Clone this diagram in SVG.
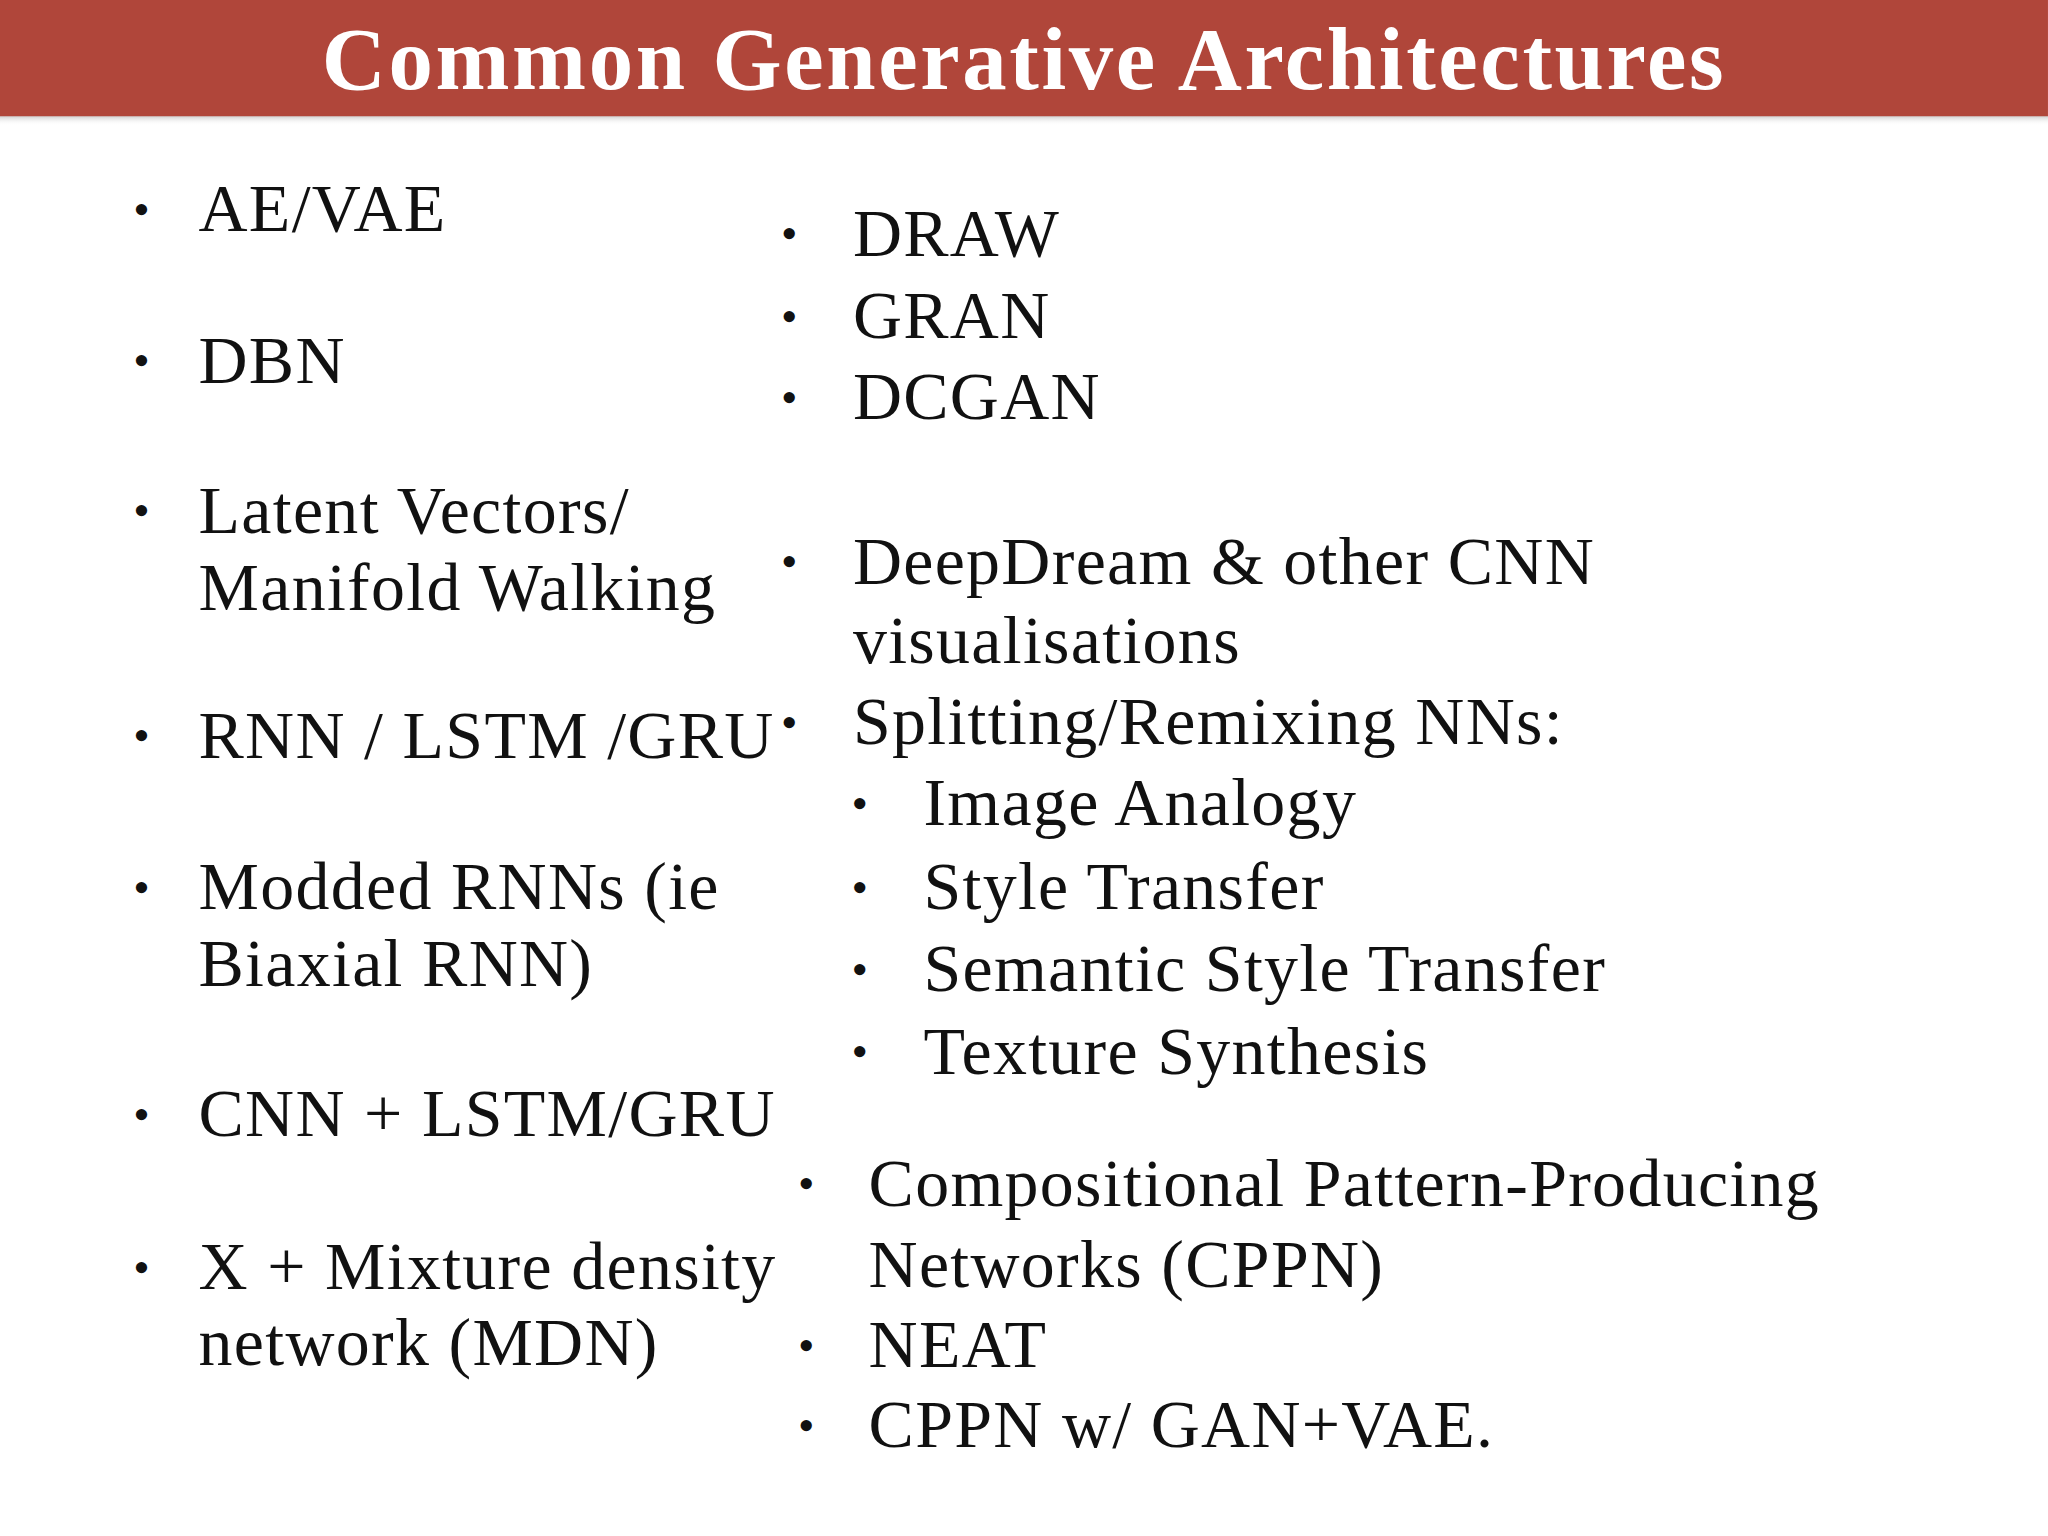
<svg xmlns="http://www.w3.org/2000/svg" width="2048" height="1536" viewBox="0 0 2048 1536">
<defs>
<style>
.t{font-family:"Liberation Serif","DejaVu Serif",serif;font-size:52px;letter-spacing:1px;fill:#111}
.b{font-family:"Liberation Serif","DejaVu Serif",serif;font-size:36px;fill:#111}
.h{font-family:"Liberation Serif","DejaVu Serif",serif;font-size:68px;font-weight:bold;letter-spacing:2px;fill:#fff}
</style>
<linearGradient id="sh" x1="0" y1="0" x2="0" y2="1"><stop offset="0" stop-color="#888" stop-opacity="0.5"/><stop offset="1" stop-color="#fff" stop-opacity="0"/></linearGradient>
</defs>
<rect width="2048" height="1536" fill="#fff"/>
<g transform="scale(1.3061)">
<g id="title">
<rect x="0" y="88" width="1568" height="8" fill="url(#sh)"/>
<rect x="0" y="0" width="1568" height="89" fill="#B0463A"/>
<text class="h" x="784" y="68" text-anchor="middle">Common Generative Architectures</text>
</g>
<g id="left">
<text class="b" x="102" y="172">•</text><text class="t" x="152" y="177">AE/VAE</text>
<text class="b" x="102" y="288">•</text><text class="t" x="152" y="293">DBN</text>
<text class="b" x="102" y="403">•</text><text class="t" x="152" y="408">Latent Vectors/</text>
<text class="t" x="152" y="467">Manifold Walking</text>
<text class="b" x="102" y="575">•</text><text class="t" x="152" y="580">RNN / LSTM /GRU</text>
<text class="b" x="102" y="691">•</text><text class="t" x="152" y="696">Modded RNNs (ie</text>
<text class="t" x="152" y="755">Biaxial RNN)</text>
<text class="b" x="102" y="865">•</text><text class="t" x="152" y="870">CNN + LSTM/GRU</text>
<text class="b" x="102" y="982">•</text><text class="t" x="152" y="987">X + Mixture density</text>
<text class="t" x="152" y="1045">network (MDN)</text>
</g>
<g id="right">
<text class="b" x="598" y="191">•</text><text class="t" x="653" y="196">DRAW</text>
<text class="b" x="598" y="254">•</text><text class="t" x="653" y="259">GRAN</text>
<text class="b" x="598" y="316">•</text><text class="t" x="653" y="321">DCGAN</text>
<text class="b" x="598" y="442">•</text><text class="t" x="653" y="447">DeepDream &amp; other CNN</text>
<text class="t" x="653" y="508">visualisations</text>
<text class="b" x="598" y="565">•</text><text class="t" x="653" y="570">Splitting/Remixing NNs:</text>
<text class="b" x="652" y="627">•</text><text class="t" x="707" y="632">Image Analogy</text>
<text class="b" x="652" y="691">•</text><text class="t" x="707" y="696">Style Transfer</text>
<text class="b" x="652" y="754">•</text><text class="t" x="707" y="759">Semantic Style Transfer</text>
<text class="b" x="652" y="817">•</text><text class="t" x="707" y="822">Texture Synthesis</text>
<text class="b" x="611" y="918">•</text><text class="t" x="665" y="923">Compositional Pattern-Producing</text>
<text class="t" x="665" y="985">Networks (CPPN)</text>
<text class="b" x="611" y="1042">•</text><text class="t" x="665" y="1047">NEAT</text>
<text class="b" x="611" y="1103">•</text><text class="t" x="665" y="1108">CPPN w/ GAN+VAE.</text>
</g>
</g>
</svg>
